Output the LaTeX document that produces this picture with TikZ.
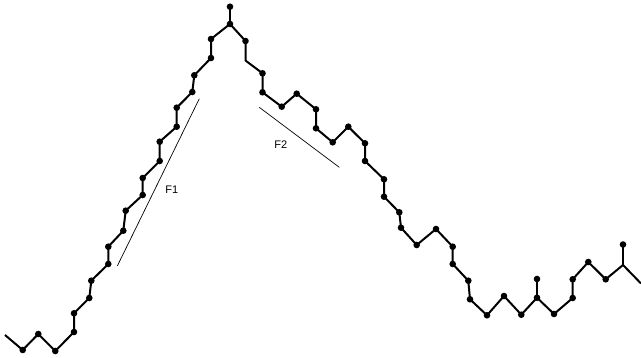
\documentclass[tikz,border=0pt]{standalone}
\usepackage{fontspec}
\setsansfont{Liberation Sans}
\usepackage{tikz}
\usetikzlibrary{positioning}

\begin{document}
\begin{tikzpicture}[
      x=1pt, y=-1pt,
      walk/.style = {line width=2pt, line join=round},
      dot/.style = {fill=black},
      slope/.style = {line width=0.7pt},
      every node/.style = {font=\sffamily\fontsize{11}{13}\selectfont}
    ]
      \useasboundingbox (0,0) rectangle (641,358);
      \foreach \px/\py [count=\i] in {5/335, 22.7/350, 38.3/334, 55.3/351, 74/332,
          74/313.3, 89.3/298, 91.3/280.7, 108.3/264, 108.3/246.7, 123.3/230.7,
          125.7/210.7, 142.7/195, 142.7/178, 159.7/161, 159.7/141.7, 176.7/126.7,
          176.7/107.7, 192.3/92, 194.3/75.3, 211/58, 211/39, 230/24, 245.5/41,
          245.5/60.5, 262.5/73.3, 262.5/92.3, 281.7/106.7, 296.7/93.7, 316/109.3,
          316/128.3, 332.7/142.3, 348.3/126.7, 365/143.3, 365/161, 384/179.3,
          384/196.7, 399.3/212.3, 401/227.7, 416.7/245, 436/229, 452.7/246.7,
          452.7/264, 468.3/280.7, 470/299.3, 487/315.3, 504/296, 521.3/314.7,
          537/297.7, 554/314, 572.7/298, 572.7/279.3, 588.3/262, 605.7/279.3,
          623/265, 641/283.5}
        \coordinate (p\i) at (\px,\py);
      \coordinate (top) at (230,6.7);
      \coordinate (spikeA) at (537,279);
      \coordinate (spikeB) at (623,244.5);

      \draw[walk] (p1) \foreach \i in {2,...,56} { -- (p\i) };
      \draw[walk] (p23) -- (top);
      \draw[walk] (p49) -- (spikeA);
      \draw[walk] (p55) -- (spikeB);

      \foreach \i in {2,...,24,26,27,...,54}
        \fill[dot] (p\i) circle (3.3pt);
      \foreach \c in {top, spikeA, spikeB}
        \fill[dot] (\c) circle (3.3pt);

      \coordinate (f1a) at (117.3,266);
      \coordinate (f1b) at (199.3,98.7);
      \coordinate (f2a) at (259.3,107.3);
      \coordinate (f2b) at (339.3,167.3);
      \draw[slope] (f1a) -- (f1b);
      \draw[slope] (f2a) -- (f2b);
      \node (F1) at (171.7,189.3) {F1};
      \node (F2) at (280.7,144.3) {F2};
    \end{tikzpicture}
\end{document}
